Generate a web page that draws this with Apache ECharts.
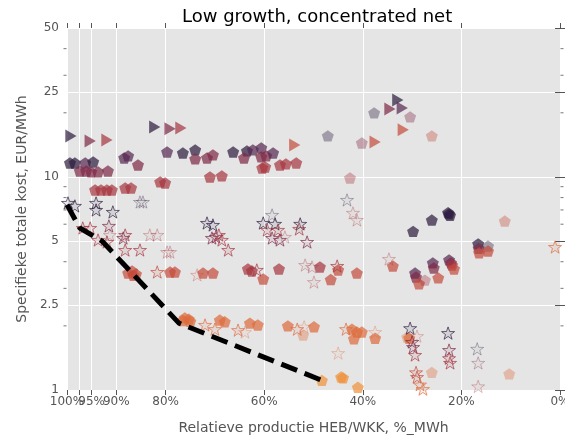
<!DOCTYPE html>
<html>
<head>
<meta charset="utf-8">
<script src="https://cdn.jsdelivr.net/npm/echarts@6/dist/echarts.min.js"></script>
<style>
  html, body { margin: 0; padding: 0; background: #ffffff; }
  #chart { width: 565px; height: 438px; }
</style>
</head>
<body>
<div id="chart"></div>
<script>
// Each point: [relative production %, specific total cost EUR/MWh, colour step, faded (0/1)]
const pentagons = [
  [99.4, 11.63, 0, 0], [98.4, 11.63, 0, 0], [96.3, 11.63, 1, 0], [94.7, 11.76, 0, 0],
  [97.4, 10.67, 2, 0], [96.1, 10.67, 2, 0], [95.1, 10.56, 2, 0], [93.7, 10.56, 2, 0], [91.7, 10.67, 2, 0],
  [94.3, 8.69, 3, 0], [93.1, 8.69, 3, 0], [91.9, 8.69, 3, 0], [90.9, 8.69, 3, 0],
  [88.2, 8.88, 3, 0], [87.0, 8.88, 3, 0],
  [88.4, 12.28, 1, 0], [87.6, 12.55, 1, 0], [85.6, 11.38, 2, 0],
  [79.7, 13.10, 1, 0], [76.5, 12.96, 0, 0], [74.0, 13.39, 0, 0],
  [74.0, 12.15, 2, 0], [71.6, 12.28, 2, 0], [70.4, 12.69, 2, 0],
  [81.1, 9.48, 3, 0], [80.1, 9.37, 3, 0], [71.0, 10.00, 3, 0], [68.6, 10.11, 3, 0],
  [66.3, 13.10, 0, 0], [63.5, 13.25, 0, 0], [62.3, 13.39, 1, 0], [60.6, 13.68, 1, 0],
  [64.1, 12.28, 2, 0], [60.6, 12.42, 2, 0], [59.6, 12.55, 2, 0], [58.2, 12.96, 1, 0],
  [60.4, 11.02, 3, 0], [59.8, 11.14, 3, 0], [56.8, 11.38, 3, 0], [55.6, 11.51, 3, 0], [53.5, 11.63, 3, 0],
  [47.1, 15.58, 0, 1], [37.7, 19.98, 0, 1], [30.4, 19.13, 2, 1], [26.0, 15.58, 4, 1],
  [40.2, 14.44, 2, 1], [42.6, 9.89, 3, 1],
  [29.8, 5.55, 0, 0], [26.0, 6.28, 0, 0], [22.7, 6.80, 0, 0], [22.5, 6.71, 0, 0], [22.3, 6.60, 0, 0],
  [11.2, 6.21, 4, 1],
  [16.6, 4.85, 0, 0], [16.5, 4.62, 2, 0], [14.6, 4.74, 0, 1], [16.4, 4.40, 4, 0], [14.6, 4.49, 4, 0],
  [22.5, 4.08, 1, 0], [22.1, 3.95, 2, 0], [21.9, 3.86, 3, 0], [21.5, 3.70, 4, 0],
  [25.8, 3.95, 1, 0], [25.6, 3.74, 2, 0], [24.7, 3.36, 4, 0],
  [29.4, 3.54, 1, 0], [29.2, 3.39, 2, 0], [28.6, 3.15, 4, 0], [27.4, 3.28, 3, 1],
  [33.9, 3.82, 4, 0],
  [41.2, 3.54, 4, 0], [45.0, 3.66, 4, 0], [46.5, 3.30, 4, 0], [48.7, 3.78, 3, 0],
  [57.0, 3.70, 3, 0], [60.2, 3.32, 4, 0], [63.3, 3.70, 3, 0], [62.5, 3.62, 3, 0],
  [70.4, 3.54, 4, 0], [72.4, 3.54, 4, 0], [79.1, 3.58, 4, 0], [78.1, 3.58, 4, 0],
  [87.6, 3.54, 4, 0], [86.8, 3.62, 4, 0], [86.0, 3.50, 4, 0], [86.5, 3.45, 4, 0],
  [76.1, 2.18, 5, 0], [75.3, 2.15, 5, 0], [75.0, 2.10, 5, 0], [76.5, 2.12, 5, 0],
  [69.0, 2.13, 5, 0], [68.0, 2.09, 5, 0], [62.9, 2.06, 5, 0], [61.3, 2.02, 5, 0],
  [55.2, 2.00, 5, 0], [52.1, 1.81, 5, 1], [49.9, 1.98, 5, 0],
  [42.2, 1.93, 5, 0], [41.2, 1.87, 5, 0], [41.8, 1.74, 5, 0], [40.2, 1.87, 5, 0],
  [37.5, 1.75, 5, 0], [30.6, 1.75, 5, 0], [31.0, 1.77, 5, 1],
  [26.0, 1.21, 5, 1], [10.3, 1.19, 5, 1],
  [48.3, 1.11, 6, 0], [44.4, 1.15, 6, 0], [44.0, 1.14, 6, 0], [41.0, 1.03, 6, 0],
  [40.0, 0.99, 6, 0], [36.1, 0.98, 6, 0], [32.9, 0.98, 6, 0], [24.3, 0.97, 6, 0]
];

const stars = [
  [99.8, 7.55, 0, 0], [98.4, 7.31, 0, 0], [94.1, 7.55, 0, 0], [94.1, 7.00, 0, 0], [90.7, 6.85, 0, 0],
  [85.2, 7.63, 0, 1], [84.6, 7.63, 0, 1],
  [96.8, 5.76, 3, 0], [95.3, 5.76, 3, 0], [91.5, 5.89, 2, 0], [91.3, 5.34, 3, 1],
  [93.7, 5.06, 3, 0], [91.9, 4.95, 3, 0], [88.2, 5.34, 3, 0], [88.6, 5.17, 2, 0],
  [83.2, 5.34, 3, 1], [81.7, 5.34, 3, 1], [88.2, 4.54, 3, 0], [85.2, 4.54, 3, 0],
  [79.7, 4.44, 3, 1], [79.1, 4.44, 3, 1],
  [71.6, 6.08, 0, 0], [70.4, 5.95, 0, 0], [70.6, 5.17, 2, 0], [69.8, 5.23, 2, 0],
  [69.2, 5.34, 3, 0], [68.6, 5.06, 3, 0], [67.3, 4.54, 3, 0],
  [81.7, 3.58, 4, 0], [73.6, 3.47, 4, 1],
  [58.4, 6.63, 0, 1], [60.2, 6.08, 0, 0], [57.8, 6.02, 0, 0],
  [59.4, 5.64, 3, 0], [57.2, 5.64, 3, 0], [55.8, 5.23, 3, 1],
  [58.4, 5.17, 2, 0], [56.8, 5.06, 2, 0], [52.7, 6.02, 0, 0], [52.9, 5.70, 3, 0], [51.3, 4.95, 2, 0],
  [43.2, 7.80, 0, 1], [42.0, 6.78, 3, 1], [41.2, 6.28, 3, 1],
  [61.5, 3.66, 3, 0], [51.7, 3.86, 3, 1], [50.3, 3.78, 3, 1], [49.9, 3.21, 3, 1],
  [45.2, 3.82, 3, 0], [34.7, 4.12, 3, 1],
  [72.0, 2.02, 5, 0], [70.0, 1.93, 5, 0], [65.3, 1.91, 5, 0], [63.9, 1.87, 5, 1],
  [53.3, 1.93, 5, 0], [51.9, 1.98, 5, 1], [43.4, 1.93, 5, 0], [45.0, 1.49, 5, 1], [37.5, 1.87, 5, 1],
  [30.4, 1.95, 0, 0], [29.0, 1.79, 4, 1], [30.0, 1.68, 2, 0], [29.8, 1.59, 2, 0], [29.4, 1.46, 3, 0],
  [29.2, 1.21, 4, 0], [29.0, 1.15, 4, 0], [28.4, 1.06, 5, 0], [27.8, 1.01, 5, 0],
  [22.7, 1.85, 0, 0], [22.5, 1.54, 2, 0], [22.5, 1.41, 3, 0], [22.3, 1.34, 3, 0],
  [16.8, 1.56, 0, 1], [16.6, 1.34, 2, 1], [16.6, 1.04, 3, 1],
  [1.0, 4.69, 5, 0], [21.7, 0.99, 3, 0]
];

const triangles = [
  [99.2, 15.58, 0, 0], [95.3, 14.76, 2, 0], [91.9, 14.92, 3, 0],
  [82.2, 17.17, 0, 0], [79.1, 16.81, 2, 0], [76.9, 16.98, 3, 0],
  [53.8, 14.13, 4, 0], [32.9, 22.99, 0, 0], [34.5, 20.85, 2, 0], [32.0, 21.08, 1, 0],
  [31.8, 16.63, 4, 0], [37.5, 14.60, 4, 0]
];

// Lowest-cost frontier
const frontier = [[100, 7.4], [97.4, 5.76], [92.9, 5.0], [77.3, 2.06], [48.3, 1.11]];

const xTickValues = [100, 97.5, 95, 90, 80, 60, 40, 20, 0];
const xLabelValues = [100, 90, 80, 60, 40, 20, 0];
const xCrowdedLabelValues = [95];
const yMajorValues = [1, 2.5, 5, 10, 25, 50];
const yMinorValues = [2, 3, 4, 6, 7, 8, 9, 20, 30, 40];

const palette = ['#2c1b3f', '#552651', '#7d2846', '#a6353f', '#c44b3b', '#dd6b3c', '#f0913a'];

function rgba(hex, a) {
  const n = parseInt(hex.slice(1), 16);
  return 'rgba(' + (n >> 16) + ',' + ((n >> 8) & 255) + ',' + (n & 255) + ',' + a + ')';
}

const PENTAGON = 'path://M10,0L19.51,6.91L15.88,18.09L4.12,18.09L0.49,6.91Z';
const STAR = 'path://M10,0L12.35,6.76L19.51,6.91L13.8,11.24L15.88,18.09L10,14L4.12,18.09L6.2,11.24L0.49,6.91L7.65,6.76Z';
const TRIANGLE_RIGHT = 'path://M0,0L17.3,10L0,20Z';

function filledItems(rows) {
  return rows.map(r => ({
    value: [r[0], r[1]],
    itemStyle: { color: rgba(palette[r[2]], r[3] ? 0.45 : 0.88) }
  }));
}
function outlineItems(rows) {
  return rows.map(r => ({
    value: [r[0], r[1]],
    itemStyle: {
      color: rgba(palette[r[2]], r[3] ? 0.05 : 0.12),
      borderColor: rgba(palette[r[2]], r[3] ? 0.4 : 0.85),
      borderWidth: 1
    }
  }));
}

const FONT = 'DejaVu Sans';
const TXT = '#555555';

const chart = echarts.init(document.getElementById('chart'), null, { renderer: 'canvas' });

function yAxisDef(position, labels, split) {
  return {
    type: 'log', logBase: 10, min: 1, max: 50, position: position, offset: 0,
    axisLine: { show: false },
    axisTick: { show: true, customValues: yMajorValues, length: 5, lineStyle: { color: TXT, width: 1 } },
    axisLabel: labels ? {
      show: true, customValues: yMajorValues, color: TXT, fontFamily: FONT, fontSize: 12, margin: 8,
      showMinLabel: true, showMaxLabel: true,
      formatter: v => String(+(+v).toFixed(2))
    } : { show: false },
    splitLine: { show: split, lineStyle: { color: '#ffffff', width: 1 } },
    minorTick: { show: false }, minorSplitLine: { show: false }
  };
}

function xLabelStyle(values) {
  return {
    show: true, customValues: values, color: TXT, fontFamily: FONT, fontSize: 12, margin: 6,
    showMinLabel: true, showMaxLabel: true, hideOverlap: false,
    formatter: v => v + '%'
  };
}

const option = {
  animation: false,
  backgroundColor: '#ffffff',
  title: {
    text: 'Low growth, concentrated net',
    left: 177, top: 3,
    textStyle: { fontFamily: FONT, fontSize: 18, fontWeight: 'normal', color: '#000000' }
  },
  grid: {
    left: 67, right: 5, top: 28, bottom: 48,
    outerBoundsMode: 'none',
    show: true, backgroundColor: '#e5e5e5', borderWidth: 0
  },
  xAxis: [
    {
      type: 'value', min: 0, max: 100, inverse: true, position: 'bottom', offset: 0,
      name: 'Relatieve productie HEB/WKK, %_MWh',
      nameLocation: 'middle', nameGap: 31,
      nameTextStyle: { fontFamily: FONT, fontSize: 14, color: TXT },
      axisLine: { show: false },
      axisTick: { show: true, customValues: xTickValues, length: 5, lineStyle: { color: TXT } },
      axisLabel: xLabelStyle(xLabelValues),
      splitLine: { show: true, lineStyle: { color: '#ffffff', width: 1 } }
    },
    {
      type: 'value', min: 0, max: 100, inverse: true, position: 'top', offset: 0,
      axisLine: { show: false },
      axisTick: { show: true, customValues: xTickValues, length: 5, lineStyle: { color: TXT } },
      axisLabel: { show: false },
      splitLine: { show: false }
    },
    {
      // the 95% label sits between 100% and 90% and overlaps them slightly
      type: 'value', min: 0, max: 100, inverse: true, position: 'bottom', offset: 0,
      axisLine: { show: false },
      axisTick: { show: false },
      axisLabel: xLabelStyle(xCrowdedLabelValues),
      splitLine: { show: false }
    }
  ],
  yAxis: [
    Object.assign(yAxisDef('left', true, true), {
      name: 'Specifieke totale kost, EUR/MWh',
      nameLocation: 'middle', nameGap: 36,
      nameTextStyle: { fontFamily: FONT, fontSize: 14, color: TXT }
    }),
    yAxisDef('right', false, false)
  ],
  series: [
    {
      type: 'scatter', name: 'pentagon', symbol: PENTAGON, symbolSize: 12, symbolKeepAspect: true,
      clip: true, xAxisIndex: 0, yAxisIndex: 0, z: 3,
      data: filledItems(pentagons)
    },
    {
      type: 'scatter', name: 'star', symbol: STAR, symbolSize: 13, symbolKeepAspect: true,
      clip: true, xAxisIndex: 0, yAxisIndex: 0, z: 3,
      data: outlineItems(stars)
    },
    {
      type: 'scatter', name: 'triangle', symbol: TRIANGLE_RIGHT, symbolSize: 13, symbolKeepAspect: true,
      clip: true, xAxisIndex: 0, yAxisIndex: 0, z: 3,
      data: filledItems(triangles)
    },
    {
      type: 'line', name: 'frontier', xAxisIndex: 0, yAxisIndex: 0, z: 5,
      symbol: 'none', clip: true,
      lineStyle: { color: '#000000', width: 5, type: [17, 8] },
      data: frontier
    },
    {
      // minor tick marks of the log scale, drawn just outside both vertical edges
      type: 'scatter', name: 'minorTicks', xAxisIndex: 0, yAxisIndex: 0, z: 1, clip: false,
      silent: true, symbol: 'rect', symbolSize: [3, 1],
      itemStyle: { color: TXT },
      data: yMinorValues.flatMap(v => [
        { value: [100, v], symbolOffset: [-2, 0] },
        { value: [0, v], symbolOffset: [2, 0] }
      ])
    }
  ]
};

chart.setOption(option);
</script>
</body>
</html>
